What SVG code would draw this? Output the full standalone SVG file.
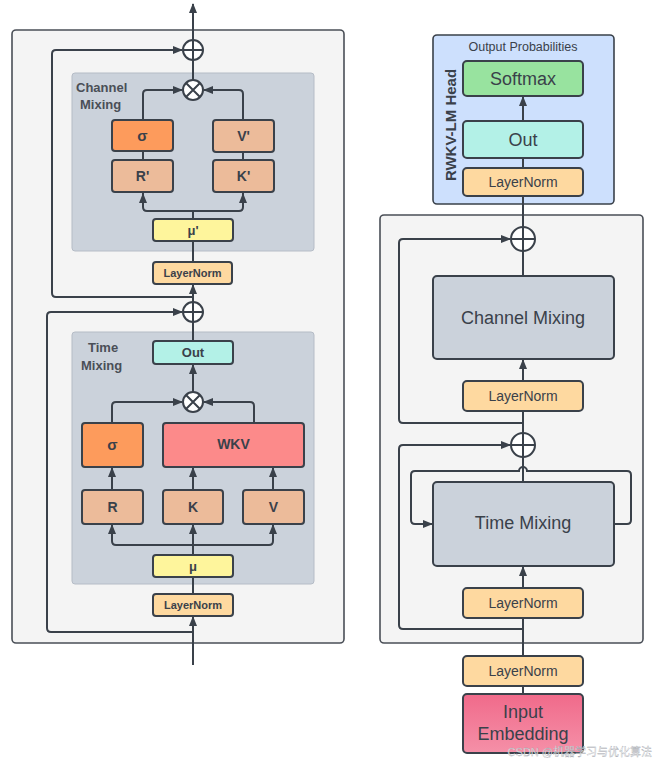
<svg xmlns="http://www.w3.org/2000/svg" width="660" height="759" viewBox="0 0 660 759">
<defs>
<marker id="ah" markerUnits="userSpaceOnUse" markerWidth="10" markerHeight="10" viewBox="0 0 10 10" refX="9" refY="5" orient="auto">
<path d="M0,1 L10,5 L0,9 Z" fill="#3a414a"/>
</marker>
<linearGradient id="emb" x1="0" y1="0" x2="0" y2="1">
<stop offset="0" stop-color="#f06a8a"/>
<stop offset="1" stop-color="#f590a8"/>
</linearGradient>
</defs>
<style>
.panel{fill:#f4f4f4;stroke:#4a4f57;stroke-width:1.6}
.inner{fill:#cbd2db;stroke:#b5bcc6;stroke-width:1}
.box{stroke:#3a414a;stroke-width:2}
.ln{fill:#fed9a0}
.peach{fill:#ecbb9a}
.orange{fill:#fd9b5c}
.yellow{fill:#fef59c}
.cyan{fill:#b3f1e7}
.red{fill:#fc8a8a}
.green{fill:#98e39f}
.grey{fill:#cbd2db}
.blue{fill:#cde0fd;stroke:#3a414a;stroke-width:1.6}
.c{stroke:#3a414a;stroke-width:2;fill:none}
.op{fill:#ffffff;stroke:#3a414a;stroke-width:2}
.bl{font-family:'Liberation Sans',Arial,sans-serif;font-weight:bold;fill:#3a414a;text-anchor:middle}
.rl{font-family:'Liberation Sans',Arial,sans-serif;fill:#3a414a;text-anchor:middle}
.lab{font-family:'Liberation Sans',Arial,sans-serif;font-weight:bold;fill:#4a4f57;font-size:13px}
</style>

<!-- panels -->
<g id="left-panel"><rect class="panel" x="12" y="30" width="332" height="613" rx="4"/></g>
<g id="channel-mixing-panel"><rect class="inner" x="72" y="73" width="242" height="178" rx="3"/>
<text class="lab" x="76" y="92">Channel</text><text class="lab" x="80" y="109">Mixing</text></g>
<g id="time-mixing-panel"><rect class="inner" x="72" y="332" width="242" height="252" rx="3"/>
<text class="lab" x="88" y="352">Time</text><text class="lab" x="81" y="370">Mixing</text></g>
<g id="head"><rect class="blue" x="433" y="35" width="181" height="169" rx="4"/>
<text class="rl" x="523" y="51" font-size="12.5">Output Probabilities</text>
<text class="bl" transform="translate(456 125) rotate(-90)" font-size="15">RWKV-LM Head</text></g>
<g id="block-panel"><rect class="panel" x="380" y="215" width="263" height="428" rx="4"/></g>

<g id="connectors">
<!-- left -->
<path class="c" d="M193 40 V4" marker-end="url(#ah)"/>
<path class="c" d="M193 80 V60"/>
<path class="c" d="M193 297 H56 Q52 297 52 293 V54 Q52 50 56 50 H182" marker-end="url(#ah)"/>
<path class="c" d="M143 120 V94 Q143 90 147 90 H182" marker-end="url(#ah)"/>
<path class="c" d="M243 120 V94 Q243 90 239 90 H204" marker-end="url(#ah)"/>
<path class="c" d="M143 151 V160 M243 152 V160"/>
<path class="c" d="M193 219 V211"/>
<path class="c" d="M143 193 V207 Q143 211 147 211 H239 Q243 211 243 207 V193"/>
<path class="c" d="M143 206 V194" marker-end="url(#ah)"/>
<path class="c" d="M243 206 V194" marker-end="url(#ah)"/>
<path class="c" d="M193 262 V241"/>
<path class="c" d="M193 302 V285" marker-end="url(#ah)"/>
<path class="c" d="M193 632 H51 Q47 632 47 628 V316 Q47 312 51 312 H182" marker-end="url(#ah)"/>
<path class="c" d="M193 341 V322"/>
<path class="c" d="M193 392 V365" marker-end="url(#ah)"/>
<path class="c" d="M112 423 V406 Q112 402 116 402 H182" marker-end="url(#ah)"/>
<path class="c" d="M254 423 V406 Q254 402 250 402 H204" marker-end="url(#ah)"/>
<path class="c" d="M112 490 V468" marker-end="url(#ah)"/>
<path class="c" d="M193 490 V468" marker-end="url(#ah)"/>
<path class="c" d="M273 490 V468" marker-end="url(#ah)"/>
<path class="c" d="M112 526 V541 Q112 545 116 545 H269 Q273 545 273 541 V526"/>
<path class="c" d="M112 540 V525" marker-end="url(#ah)"/>
<path class="c" d="M273 540 V525" marker-end="url(#ah)"/>
<path class="c" d="M193 555 V525" marker-end="url(#ah)"/>
<path class="c" d="M193 594 V577"/>
<path class="c" d="M193 665 V617" marker-end="url(#ah)"/>
<!-- right -->
<path class="c" d="M523 168 V158"/>
<path class="c" d="M523 121 V97" marker-end="url(#ah)"/>
<path class="c" d="M523 227 V196"/>
<path class="c" d="M523 276 V251"/>
<path class="c" d="M523 423 H403 Q399 423 399 419 V243 Q399 239 403 239 H510" marker-end="url(#ah)"/>
<path class="c" d="M523 381 V360" marker-end="url(#ah)"/>
<path class="c" d="M523 433 V411"/>
<path class="c" d="M523 629 H403 Q399 629 399 625 V449 Q399 445 403 445 H510" marker-end="url(#ah)"/>
<path class="c" d="M523 482 V457"/>
<path class="c" d="M614 524 H627 Q631 524 631 520 V475 Q631 471 627 471 H527 A4 4 0 0 0 519 471 H415 Q411 471 411 475 V520 Q411 524 415 524 H432" marker-end="url(#ah)"/>
<path class="c" d="M523 588 V567" marker-end="url(#ah)"/>
<path class="c" d="M523 656 V618"/>
<path class="c" d="M523 694 V686"/>
</g>

<!-- left ops -->
<g id="add-top"><circle class="op" cx="193" cy="50" r="10"/><path class="c" d="M183 50 H203 M193 40 V60"/></g>
<g id="mul-cm"><circle class="op" cx="193" cy="90" r="10"/><path class="c" d="M186 83 L200 97 M200 83 L186 97"/></g>
<g id="add-mid"><circle class="op" cx="193" cy="312" r="10"/><path class="c" d="M183 312 H203 M193 302 V322"/></g>
<g id="mul-tm"><circle class="op" cx="193" cy="402" r="10"/><path class="c" d="M186 395 L200 409 M200 395 L186 409"/></g>

<!-- left boxes -->
<g id="cm-sigma"><rect class="box orange" x="112" y="120" width="61" height="31" rx="3"/><text class="bl" x="142.5" y="141" font-size="15">σ</text></g>
<g id="cm-r"><rect class="box peach" x="112" y="160" width="61" height="32" rx="3"/><text class="bl" x="142.5" y="181" font-size="14">R'</text></g>
<g id="cm-v"><rect class="box peach" x="213" y="120" width="61" height="32" rx="3"/><text class="bl" x="243.5" y="141" font-size="14">V'</text></g>
<g id="cm-k"><rect class="box peach" x="213" y="160" width="61" height="32" rx="3"/><text class="bl" x="243.5" y="181" font-size="14">K'</text></g>
<g id="cm-mu"><rect class="box yellow" x="153" y="219" width="80" height="22" rx="3"/><text class="bl" x="193" y="235" font-size="13">μ'</text></g>
<g id="cm-ln"><rect class="box ln" x="153" y="262" width="79" height="22" rx="3"/><text class="bl" x="192.5" y="277" font-size="11">LayerNorm</text></g>

<g id="tm-out"><rect class="box cyan" x="153" y="341" width="80" height="23" rx="3"/><text class="bl" x="193" y="357" font-size="13">Out</text></g>
<g id="tm-sigma"><rect class="box orange" x="82" y="423" width="61" height="44" rx="3"/><text class="bl" x="112.5" y="450" font-size="15">σ</text></g>
<g id="tm-wkv"><rect class="box red" x="163" y="423" width="141" height="44" rx="3"/><text class="bl" x="233.5" y="449" font-size="14">WKV</text></g>
<g id="tm-r"><rect class="box peach" x="82" y="490" width="61" height="34" rx="3"/><text class="bl" x="112.5" y="512" font-size="14">R</text></g>
<g id="tm-k"><rect class="box peach" x="163" y="490" width="60" height="34" rx="3"/><text class="bl" x="193" y="512" font-size="14">K</text></g>
<g id="tm-v"><rect class="box peach" x="243" y="490" width="61" height="34" rx="3"/><text class="bl" x="273.5" y="512" font-size="14">V</text></g>
<g id="tm-mu"><rect class="box yellow" x="153" y="555" width="80" height="22" rx="3"/><text class="bl" x="193" y="571" font-size="13">μ</text></g>
<g id="tm-ln"><rect class="box ln" x="153" y="594" width="80" height="22" rx="3"/><text class="bl" x="193" y="609" font-size="11">LayerNorm</text></g>

<!-- right nodes -->
<g id="softmax"><rect class="box green" x="463" y="61" width="120" height="35" rx="4"/><text class="rl" x="523" y="85" font-size="18">Softmax</text></g>
<g id="head-out"><rect class="box cyan" x="463" y="121" width="120" height="37" rx="4"/><text class="rl" x="523" y="146" font-size="18">Out</text></g>
<g id="head-ln"><rect class="box ln" x="463" y="168" width="120" height="28" rx="4"/><text class="rl" x="523" y="187" font-size="14">LayerNorm</text></g>
<g id="add-r1"><circle class="op" cx="523" cy="239" r="12"/><path class="c" d="M511 239 H535 M523 227 V251"/></g>
<g id="channel-mixing"><rect class="box grey" x="433" y="276" width="181" height="83" rx="4"/><text class="rl" x="523" y="324" font-size="18">Channel Mixing</text></g>
<g id="ln-cm"><rect class="box ln" x="463" y="381" width="120" height="30" rx="4"/><text class="rl" x="523" y="401" font-size="14">LayerNorm</text></g>
<g id="add-r2"><circle class="op" cx="523" cy="445" r="12"/><path class="c" d="M511 445 H535 M523 433 V457"/></g>
<g id="time-mixing"><rect class="box grey" x="433" y="482" width="181" height="84" rx="4"/><text class="rl" x="523" y="529" font-size="18">Time Mixing</text></g>
<g id="ln-tm"><rect class="box ln" x="463" y="588" width="120" height="30" rx="4"/><text class="rl" x="523" y="608" font-size="14">LayerNorm</text></g>
<g id="ln-in"><rect class="box ln" x="463" y="656" width="120" height="30" rx="4"/><text class="rl" x="523" y="676" font-size="14">LayerNorm</text></g>
<g id="embedding"><rect x="463" y="694" width="120" height="59" rx="4" fill="url(#emb)" stroke="#3a414a" stroke-width="2"/>
<text class="rl" x="523" y="718" font-size="18">Input</text><text class="rl" x="523" y="740" font-size="18">Embedding</text></g>

<text x="652" y="756" font-family="'Liberation Sans','Noto Sans CJK SC',sans-serif" font-size="11" fill="#ffffff" fill-opacity="0.8" stroke="#9aa0a8" stroke-width="0.3" text-anchor="end">CSDN @机器学习与优化算法</text>
</svg>
